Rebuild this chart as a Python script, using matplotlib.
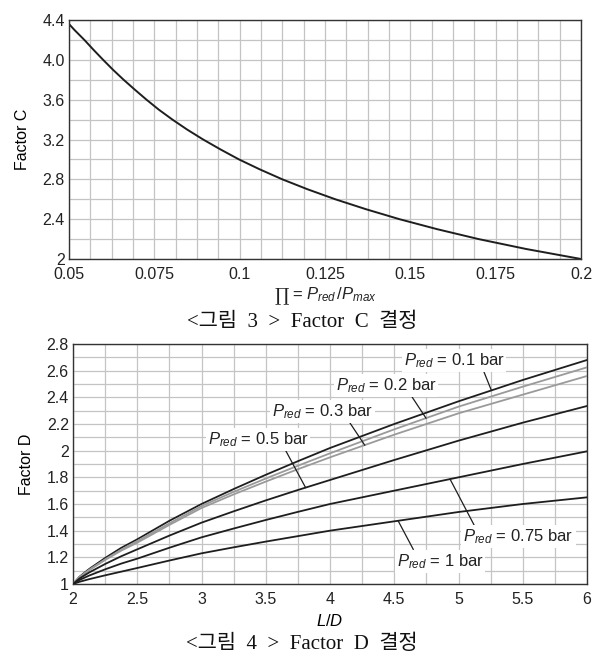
import numpy as np
import matplotlib
matplotlib.use("Agg")
import matplotlib.pyplot as plt

plt.rcParams['font.family'] = ['Liberation Sans', 'DejaVu Sans']
plt.rcParams['mathtext.fontset'] = 'custom'
plt.rcParams['mathtext.rm'] = 'Liberation Sans'
plt.rcParams['mathtext.it'] = 'Liberation Sans:italic'

# ---- Factor C data ----
pi_vals = [0.05, 0.0516, 0.0545, 0.0572, 0.0600, 0.0629, 0.0660, 0.0693, 0.0727, 0.0763,
           0.0803, 0.0846, 0.0893, 0.0944, 0.0998, 0.1059, 0.1125, 0.1199, 0.1280, 0.1370,
           0.1468, 0.1578, 0.1700, 0.1840, 0.2]
factor_c = [4.36, 4.3, 4.2, 4.1, 4.0, 3.9, 3.8, 3.7, 3.6, 3.5,
            3.4, 3.3, 3.2, 3.1, 3.0, 2.9, 2.8, 2.7, 2.6, 2.5,
            2.4, 2.3, 2.2, 2.1, 2.0]
c_xticks = [0.05, 0.075, 0.1, 0.125, 0.15, 0.175, 0.2]
c_xticklabels = ['0.05', '0.075', '0.1', '0.125', '0.15', '0.175', '0.2']
c_yticks = [2.0, 2.4, 2.8, 3.2, 3.6, 4.0, 4.4]
c_yticklabels = ['2', '2.4', '2.8', '3.2', '3.6', '4.0', '4.4']

# ---- Factor D data ----
ld_vals = [2.0, 2.05, 2.125, 2.25, 2.375, 2.5, 2.75, 3.0, 3.25, 3.5, 3.75, 4.0, 4.5, 5.0, 5.5, 6.0]
d_p01 = [1.0, 1.054, 1.112, 1.195, 1.271, 1.335, 1.474, 1.60, 1.712, 1.819, 1.921, 2.02, 2.20, 2.37, 2.53, 2.68]
d_p02 = [1.0, 1.051, 1.106, 1.185, 1.257, 1.322, 1.455, 1.585, 1.691, 1.791, 1.887, 1.98, 2.16, 2.33, 2.48, 2.625]
d_p03 = [1.0, 1.050, 1.103, 1.18, 1.25, 1.31, 1.443, 1.57, 1.672, 1.768, 1.861, 1.95, 2.12, 2.28, 2.42, 2.56]
d_p05 = [1.0, 1.041, 1.086, 1.15, 1.208, 1.26, 1.363, 1.46, 1.545, 1.627, 1.705, 1.78, 1.93, 2.075, 2.21, 2.335]
d_p075 = [1.0, 1.030, 1.063, 1.11, 1.153, 1.19, 1.272, 1.35, 1.416, 1.48, 1.541, 1.60, 1.70, 1.80, 1.90, 1.995]
d_p1 = [1.0, 1.0165, 1.036, 1.065, 1.0925, 1.12, 1.176, 1.23, 1.275, 1.318, 1.359, 1.40, 1.47, 1.54, 1.60, 1.65]
d_labels = ['0.1', '0.2', '0.3', '0.5', '0.75', '1']
d_xticks = [2, 2.5, 3, 3.5, 4, 4.5, 5, 5.5, 6]
d_xticklabels = ['2', '2.5', '3', '3.5', '4', '4.5', '5', '5.5', '6']
d_yticks = [1.0, 1.2, 1.4, 1.6, 1.8, 2.0, 2.2, 2.4, 2.6, 2.8]
d_yticklabels = ['1', '1.2', '1.4', '1.6', '1.8', '2', '2.2', '2.4', '2.6', '2.8']

W, H = 602, 663
fig = plt.figure(figsize=(W / 100, H / 100), dpi=100)

def px_axes(l, t, r, b):
    return fig.add_axes([l / W, 1 - b / H, (r - l) / W, (b - t) / H])

grid_col = '#c4c4c4'
line_col = '#1e1e1e'
gray_col = '#9a9a9a'
tick_fs = 11.5
cap_family = ['Liberation Serif', 'Noto Sans CJK KR']

def style(ax):
    for s in ax.spines.values():
        s.set_color('#333333')
        s.set_linewidth(1.0)
    ax.tick_params(length=0, labelsize=tick_fs, colors='#222222', pad=3)
    ax.tick_params(axis='x', pad=6)
    ax.grid(True, which='both', color=grid_col, linewidth=0.9)
    ax.set_axisbelow(True)

# ---- top chart ----
ax1 = px_axes(69, 20, 581, 259)
ax1.plot(pi_vals, factor_c, color=line_col, lw=1.4, solid_joinstyle='round')
ax1.set_xlim(0.05, 0.2)
ax1.set_ylim(2.0, 4.4)
ax1.set_xticks(c_xticks)
ax1.set_xticklabels(c_xticklabels)
ax1.set_yticks(c_yticks)
ax1.set_yticklabels(c_yticklabels)
ax1.set_xticks(np.arange(0.05, 0.2001, 0.00625), minor=True)
ax1.set_yticks(np.arange(2.0, 4.401, 0.2), minor=True)
ax1.tick_params(which='minor', length=0)
style(ax1)
ax1.set_ylabel('Factor C', fontsize=11.5, labelpad=9)
fig.text(289 / W, 1 - 295 / H, '∏', ha='right', va='center',
         fontsize=13, family=['DejaVu Serif'], color='#222222')
fig.text(292 / W, 1 - 295 / H, '= $P_{red}\\,/P_{max}$', ha='left', va='center',
         fontsize=12, color='#222222')
fig.text(302 / W, 1 - 322 / H, '<그림  3  >  Factor  C  결정', ha='center', va='center',
         fontsize=15, family=cap_family, color='#111111')

# ---- bottom chart ----
ax2 = px_axes(73, 344, 587, 584)
series = [d_p01, d_p02, d_p03, d_p05, d_p075, d_p1]
colors = [line_col, gray_col, gray_col, line_col, line_col, line_col]
for ys, c in zip(series, colors):
    ax2.plot(ld_vals, ys, color=c, lw=1.3, zorder=3, solid_joinstyle='round')
ax2.set_xlim(2, 6)
ax2.set_ylim(1, 2.8)
ax2.set_xticks(d_xticks)
ax2.set_xticklabels(d_xticklabels)
ax2.set_yticks(d_yticks)
ax2.set_yticklabels(d_yticklabels)
ax2.set_xticks(np.arange(2, 6.001, 0.25), minor=True)
ax2.set_yticks(np.arange(1, 2.801, 0.1), minor=True)
ax2.tick_params(which='minor', length=0)
style(ax2)
ax2.set_ylabel('Factor D', fontsize=11.5, labelpad=9)
ax2.set_xlabel('$L/D$', fontsize=12, labelpad=4)

# label positions: (text x, text y, leader start x, leader start y, curve x)
label_pos = [
    (4.965, 2.675, 5.19, 2.61, 5.256),
    (4.436, 2.49, 4.62, 2.43, 4.747),
    (3.94, 2.292, 4.14, 2.23, 4.27),
    (3.44, 2.085, 3.65, 2.01, 3.81),
    (5.467, 1.355, 5.128, 1.43, 4.934),
    (4.856, 1.167, 4.648, 1.26, 4.53),
]
for lab, ys, (tx, ty, sx, sy, cx) in zip(d_labels, series, label_pos):
    cy = np.interp(cx, ld_vals, ys)
    ax2.plot([sx, cx], [sy, cy], color=line_col, lw=0.9, zorder=4)
    ax2.text(tx, ty, '$P_{red}$ = ' + lab + ' bar', ha='center', va='center',
             fontsize=12, color='#222222', zorder=5,
             bbox=dict(facecolor='white', edgecolor='none', pad=1.5))

fig.text(302 / W, 1 - 644 / H, '<그림  4  >  Factor  D  결정', ha='center', va='center',
         fontsize=15, family=cap_family, color='#111111')

fig.savefig('out.png', dpi=100)
